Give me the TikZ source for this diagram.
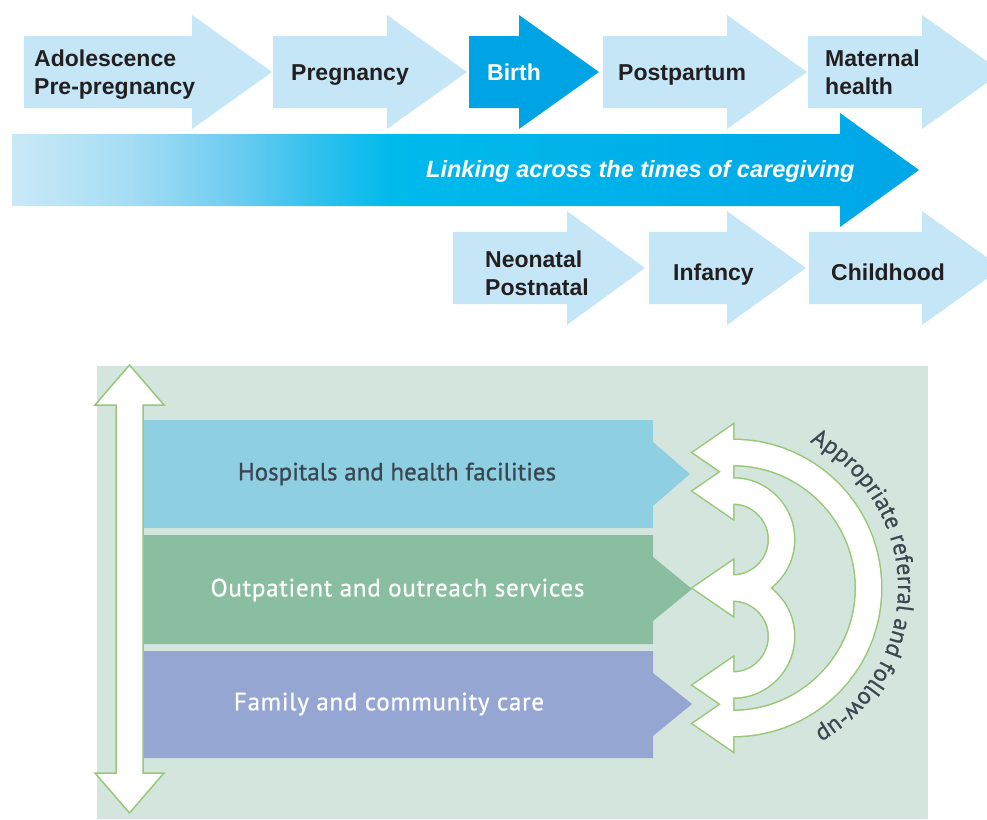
\documentclass[tikz,border=0pt]{standalone}
\usepackage{fontspec}
\setmainfont{Liberation Sans}
\newfontfamily\bandfont[FakeBold=0.8, LetterSpace=3]{PT Sans}
\newfontfamily\bandfontnarrow[FakeBold=0.8]{PT Sans}
\newfontfamily\arcfont[FakeBold=0.6]{PT Sans}
\usetikzlibrary{decorations.text}

% palette
\definecolor{stageblue}{RGB}{196,230,246}
\definecolor{birthblue}{RGB}{0,163,228}
\definecolor{inkdark}{RGB}{35,31,32}
\definecolor{lkA}{RGB}{202,233,247}
\definecolor{lkA2}{RGB}{165,221,244}
\definecolor{lkA3}{RGB}{110,204,240}
\definecolor{lkA4}{RGB}{45,192,237}
\definecolor{lkB}{RGB}{0,186,236}
\definecolor{lkC}{RGB}{0,166,230}
\definecolor{panelbg}{RGB}{212,229,221}
\definecolor{hospblue}{RGB}{143,207,226}
\definecolor{outgreen}{RGB}{137,190,160}
\definecolor{famviolet}{RGB}{150,166,211}
\definecolor{ringgreen}{RGB}{150,200,120}
\definecolor{labelgray}{RGB}{58,70,80}

% light-to-cyan ramp of the long timeline arrow
\pgfdeclarehorizontalshading{linkshade}{100bp}{color(0bp)=(lkA); color(25bp)=(lkA);
  color(31.5bp)=(lkA2); color(37.2bp)=(lkA3); color(42bp)=(lkA4); color(46bp)=(lkB);
  color(75bp)=(lkC); color(100bp)=(lkC)}

\tikzset{
  stagefill/.style={fill=stageblue},
  birthfill/.style={fill=birthblue},
  stagelabel/.style={font=\fontsize{23}{28}\selectfont\bfseries, text=inkdark, inner sep=0pt, align=left},
  bandlabel/.style={font=\bandfont\fontsize{25}{28}\selectfont, inner sep=0pt},
  ringline/.style={draw=ringgreen, line width=1.5pt, fill=white},
  ringedge/.style={draw=ringgreen, line width=3pt},
}

% block arrow: style, body start, head base, tip, centre line
\newcommand\stagearrow[5]{\fill[#1] (#2,#5-36) -- (#3,#5-36) -- (#3,#5-57) -- (#4,#5) -- (#3,#5+57) -- (#3,#5+36) -- (#2,#5+36) -- cycle;}

% half-ring with a head at each end, both pointing left: centre x, centre y, radius
\newcommand\ringpath[3]{(#1,#2-#3-12.5) arc[start angle=-90,end angle=90,radius=#3+12.5]
  -- (#1,#2+#3+27.5) -- (#1-40,#2+#3) -- (#1,#2+#3-27.5) -- (#1,#2+#3-12.5)
  arc[start angle=90,end angle=-90,radius=#3-12.5]
  -- (#1,#2-#3+27.5) -- (#1-40,#2-#3) -- (#1,#2-#3-27.5) -- cycle}

\begin{document}
\begin{tikzpicture}[x=1pt,y=-1pt]
\path[use as bounding box, clip] (0,0) rectangle (987,819);

% ---- stages of the continuum of care ----
\stagearrow{stagefill}{24}{192}{272}{72}
\stagearrow{stagefill}{273}{387}{467}{72}
\stagearrow{birthfill}{469}{519}{599}{72}
\stagearrow{stagefill}{603}{727}{807}{72}
\stagearrow{stagefill}{808}{922}{1002}{72}

\stagearrow{stagefill}{453}{567}{645}{268}
\stagearrow{stagefill}{649}{727}{806}{268}
\stagearrow{stagefill}{809}{922}{1002}{268}

% long timeline arrow
\path[shading=linkshade] (12,134) -- (840,134) -- (840,113) -- (919,170) -- (840,227) -- (840,206) -- (12,206) -- cycle;

\node[stagelabel, anchor=base west] (adol) at (34,94) {Adolescence\\Pre-pregnancy};
\node[stagelabel, anchor=base west] (preg) at (291,80) {Pregnancy};
\node[stagelabel, anchor=base west, text=white] (birth) at (487,80) {Birth};
\node[stagelabel, anchor=base west] (postp) at (618,80) {Postpartum};
\node[stagelabel, anchor=base west] (mat) at (825,94) {Maternal\\health};
\node[stagelabel, anchor=base west, text=white, font=\fontsize{23.5}{28}\selectfont\bfseries\itshape] (link) at (426,177) {Linking across the times of caregiving};
\node[stagelabel, anchor=base west] (neo) at (485,295) {Neonatal\\Postnatal};
\node[stagelabel, anchor=base west] (inf) at (673,280) {Infancy};
\node[stagelabel, anchor=base west] (child) at (831,280) {Childhood};

% ---- levels of care ----
\fill[panelbg] (97,366) rectangle (928,819);

\fill[hospblue] (142,420) -- (653,420) -- (653,442) -- (690,474) -- (653,506) -- (653,528) -- (142,528) -- cycle;
\fill[outgreen] (142,535) -- (653,535) -- (653,557) -- (692,589) -- (653,621) -- (653,644) -- (142,644) -- cycle;
\fill[famviolet] (142,651) -- (653,651) -- (653,673) -- (692,704) -- (653,736) -- (653,758) -- (142,758) -- cycle;

% vertical two-way arrow
\draw[ringline] (116,405) -- (95,405) -- (129.5,365) -- (164,405) -- (143,405)
  -- (143,773) -- (164,773) -- (129.5,813) -- (95,773) -- (116,773) -- cycle;

% referral loops: outline of the union, then white fill
\draw[ringedge] \ringpath{733}{588}{135.5} \ringpath{733}{539.5}{48.5} \ringpath{733}{636.5}{48.5};
\fill[white] \ringpath{733}{588}{135.5} \ringpath{733}{539.5}{48.5} \ringpath{733}{636.5}{48.5};

\node[bandlabel, text=labelgray, font=\bandfontnarrow\fontsize{25}{28}\selectfont] (hosp) at (397,474) {Hospitals and health facilities};
\node[bandlabel, text=white] (outp) at (397.5,590) {Outpatient and outreach services};
\node[bandlabel, text=white] (fam) at (389,704) {Family and community care};

\path[decorate, decoration={text along path, text align=center, text color=labelgray,
  text={|\arcfont\fontsize{24}{26}\selectfont|Appropriate referral and follow-up}}]
  (733,588) ++(-81:165) arc[start angle=-81, end angle=79, radius=165];
\end{tikzpicture}
\end{document}
